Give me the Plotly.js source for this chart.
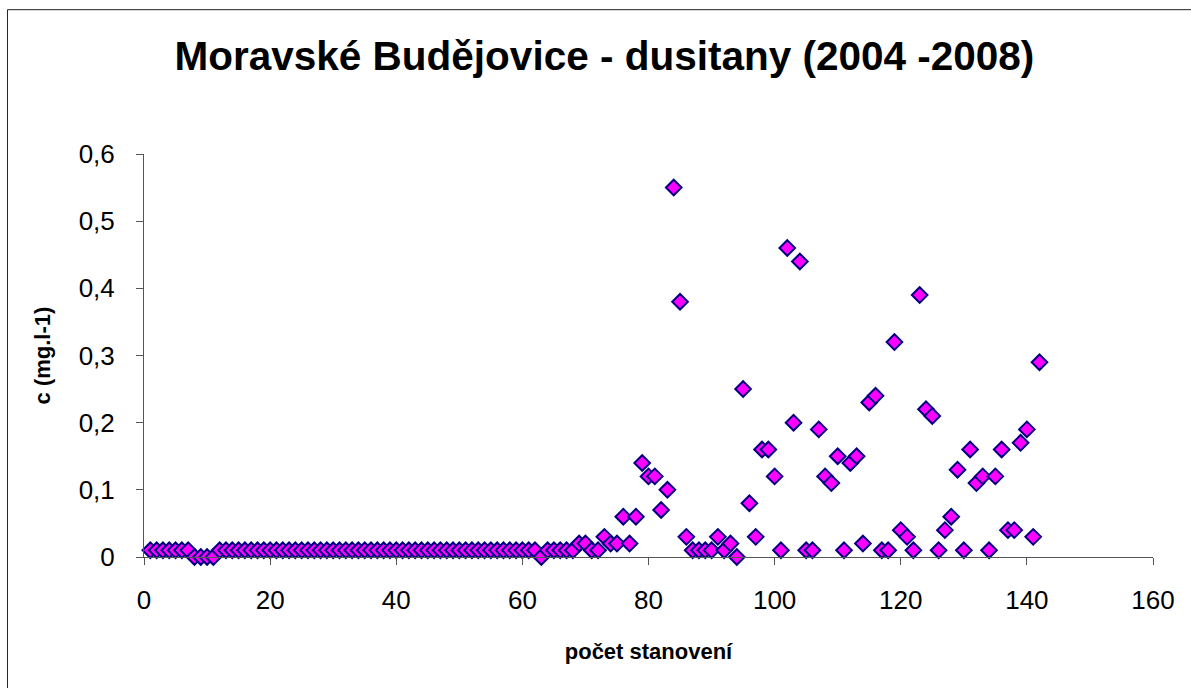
<!DOCTYPE html>
<html>
<head>
<meta charset="utf-8">
<script src="https://cdn.plot.ly/plotly-3.0.1.min.js"></script>
<style>
  html, body { margin: 0; padding: 0; background: #ffffff; }
  #chart { width: 1191px; height: 688px; }
</style>
</head>
<body>
<div id="chart"></div>
<script>
// Measurement index (počet stanovení)
const measurementIndex = [
  1,2,3,4,5,6,7,8,9,10,
  11,12,13,14,15,16,17,18,19,20,
  21,22,23,24,25,26,27,28,29,30,
  31,32,33,34,35,36,37,38,39,40,
  41,42,43,44,45,46,47,48,49,50,
  51,52,53,54,55,56,57,58,59,60,
  61,62,63,64,65,66,67,68,69,70,
  71,72,73,74,75,76,77,78,79,80,
  81,82,83,84,85,86,87,88,89,90,
  91,92,93,94,95,96,97,98,99,100,
  101,102,103,104,105,106,107,108,109,110,
  111,112,113,114,115,116,117,118,119,120,
  121,122,123,124,125,126,127,128,129,130,
  131,132,133,134,135,136,137,138,139,140,
  141,142
];

// Nitrite concentration c (mg.l-1)
const nitriteValues = [
  0.01,0.01,0.01,0.01,0.01,0.01,0.01,0,0,0,
  0,0.01,0.01,0.01,0.01,0.01,0.01,0.01,0.01,0.01,
  0.01,0.01,0.01,0.01,0.01,0.01,0.01,0.01,0.01,0.01,
  0.01,0.01,0.01,0.01,0.01,0.01,0.01,0.01,0.01,0.01,
  0.01,0.01,0.01,0.01,0.01,0.01,0.01,0.01,0.01,0.01,
  0.01,0.01,0.01,0.01,0.01,0.01,0.01,0.01,0.01,0.01,
  0.01,0.01,0,0.01,0.01,0.01,0.01,0.01,0.02,0.02,
  0.01,0.01,0.03,0.02,0.02,0.06,0.02,0.06,0.14,0.12,
  0.12,0.07,0.10,0.55,0.38,0.03,0.01,0.01,0.01,0.01,
  0.03,0.01,0.02,0,0.25,0.08,0.03,0.16,0.16,0.12,
  0.01,0.46,0.20,0.44,0.01,0.01,0.19,0.12,0.11,0.15,
  0.01,0.14,0.15,0.02,0.23,0.24,0.01,0.01,0.32,0.04,
  0.03,0.01,0.39,0.22,0.21,0.01,0.04,0.06,0.13,0.01,
  0.16,0.11,0.12,0.01,0.12,0.16,0.04,0.04,0.17,0.19,
  0.03,0.29
];

const chartTitle = 'Moravské Budějovice - dusitany (2004 -2008)';
const xAxisTitle = 'počet stanovení';
const yAxisTitle = 'c (mg.l-1)';

const FONT = '"Liberation Sans", Arial, sans-serif';

const trace = {
  type: 'scatter',
  mode: 'markers',
  x: measurementIndex,
  y: nitriteValues,
  cliponaxis: false,
  marker: {
    symbol: 'diamond',
    size: 12,
    color: '#FF00FF',
    line: { color: '#000080', width: 2 }
  },
  hoverinfo: 'x+y'
};

const layout = {
  width: 1191,
  height: 688,
  paper_bgcolor: '#ffffff',
  plot_bgcolor: '#ffffff',
  separators: ', ',
  showlegend: false,
  margin: { l: 144, r: 38, t: 154, b: 131, pad: 0 },
  font: { family: FONT, color: '#000000' },
  title: {
    text: '<b>' + chartTitle + '</b>',
    font: { family: FONT, size: 40.5, color: '#000000' },
    x: 0.5075, xref: 'container', xanchor: 'center',
    y: 1 - 56 / 688, yref: 'container', yanchor: 'middle'
  },
  xaxis: {
    range: [0, 160],
    dtick: 20,
    tick0: 0,
    showgrid: false,
    zeroline: false,
    showline: true,
    linecolor: '#555555',
    linewidth: 1,
    ticks: 'outside',
    ticklen: 7,
    tickcolor: '#555555',
    ticklabelstandoff: 13,
    tickfont: { family: FONT, size: 26, color: '#000000' },
    title: {
      text: '<b>' + xAxisTitle + '</b>',
      font: { family: FONT, size: 22, color: '#000000' },
      standoff: 29
    }
  },
  yaxis: {
    range: [0, 0.6],
    dtick: 0.1,
    tick0: 0,
    showgrid: false,
    zeroline: false,
    showline: true,
    linecolor: '#555555',
    linewidth: 1,
    ticks: 'outside',
    ticklen: 7,
    tickcolor: '#555555',
    ticklabelstandoff: 16,
    tickfont: { family: FONT, size: 26, color: '#000000' },
    title: {
      text: '<b>' + yAxisTitle + '</b>',
      font: { family: FONT, size: 22, color: '#000000' },
      standoff: 21
    }
  },
  shapes: [
    {
      type: 'line', xref: 'paper', yref: 'paper',
      x0: -0.1353, x1: -0.1353, y0: -0.5, y1: 1.3581,
      line: { color: '#222222', width: 1 }
    },
    {
      type: 'line', xref: 'paper', yref: 'paper',
      x0: -0.1353, x1: 1.2, y0: 1.3581, y1: 1.3581,
      line: { color: '#222222', width: 1 }
    }
  ]
};

Plotly.newPlot('chart', [trace], layout, { displayModeBar: false, staticPlot: true });
</script>
</body>
</html>
